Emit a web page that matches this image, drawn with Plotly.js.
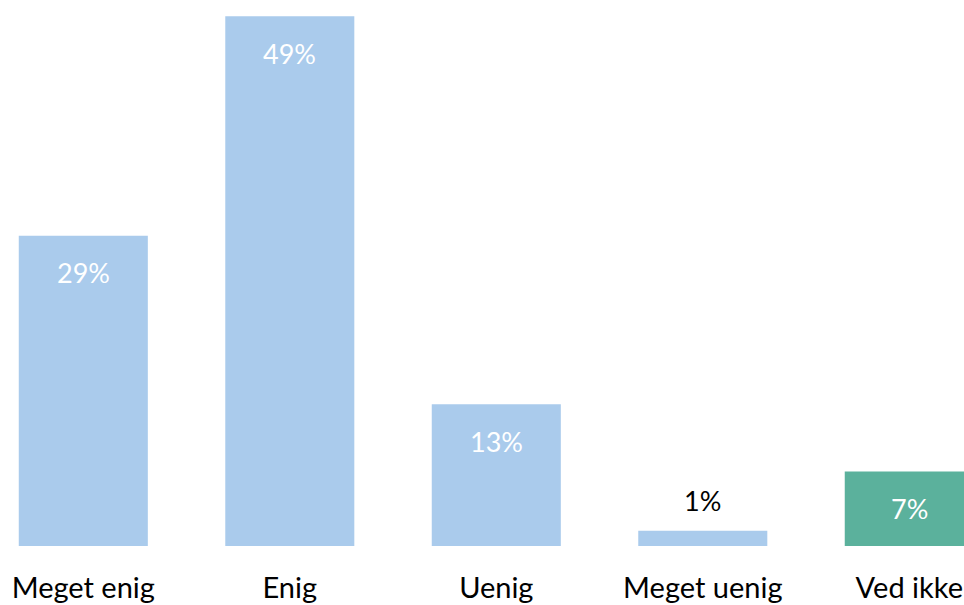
<!DOCTYPE html>
<html><head><meta charset="utf-8">
<script src="https://cdn.plot.ly/plotly-3.0.1.min.js"></script>
<style>html,body{margin:0;padding:0;background:#fff}#chart{width:964px;height:605px}</style>
</head><body><div id="chart"></div>
<script>
const categories = ["Meget enig", "Enig", "Uenig", "Meget uenig", "Ved ikke"];
const values = [28.7, 49.0, 13.1, 1.4, 6.9];
const labels = ["29%", "49%", "13%", "1%", "7%"];
const barColors = ["#AACBEC", "#AACBEC", "#AACBEC", "#AACBEC", "#5BB19C"];
const labelColors = ["#FFFFFF", "#FFFFFF", "#FFFFFF", "#000000", "#FFFFFF"];
const labelInside = [true, true, true, false, true];

const FONT = "Lato, 'Open Sans', sans-serif";

const annotations = categories.map((c, i) => ({
  x: c, y: values[i], xref: 'x', yref: 'y',
  text: labels[i], showarrow: false,
  yanchor: 'middle', xanchor: 'center',
  yshift: labelInside[i] ? -37 : 30,
  font: {family: FONT, size: 27, color: labelColors[i]}
}));

const trace = {
  type: 'bar', x: categories, y: values,
  marker: {color: barColors},
  hoverinfo: 'skip'
};

const layout = {
  width: 964, height: 605,
  margin: {l: 0, r: 0, t: 0, b: 59},
  paper_bgcolor: '#fff', plot_bgcolor: '#fff',
  bargap: 0.375,
  showlegend: false,
  xaxis: {
    type: 'category', range: [-0.4034, 4.265],
    showgrid: false, zeroline: false, showline: false,
    ticks: '', ticklabelstandoff: 22, automargin: false,
    tickfont: {family: FONT, size: 29, color: '#000'}
  },
  yaxis: {
    range: [0, 50.5], visible: false, showgrid: false, zeroline: false
  },
  annotations: annotations
};

Plotly.newPlot('chart', [trace], layout, {staticPlot: true, displayModeBar: false});
</script></body></html>
